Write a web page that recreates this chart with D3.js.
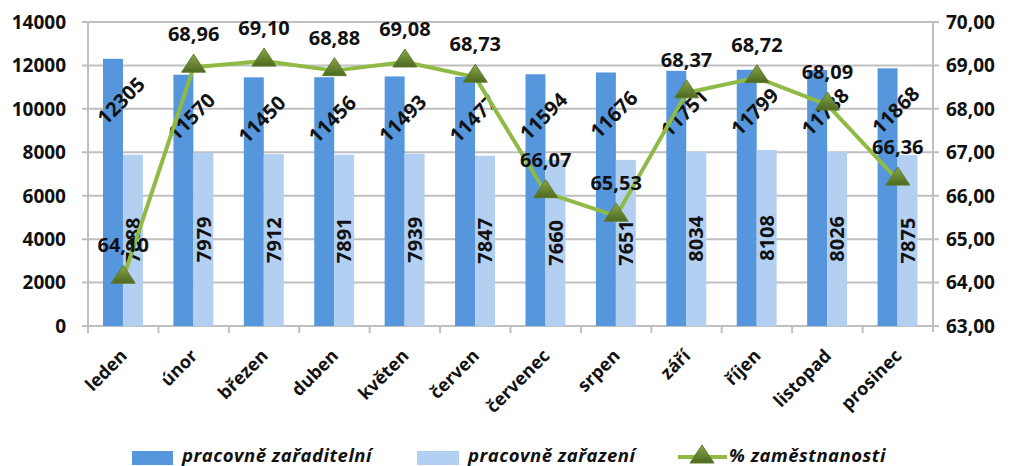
<!DOCTYPE html>
<html>
<head>
<meta charset="utf-8">
<script src="https://cdn.jsdelivr.net/npm/d3@7"></script>
<style>
  body { margin: 0; background: #fff; }
  text { font-family: "Open Sans", sans-serif; font-weight: bold; fill: #111; }
</style>
</head>
<body>
<div id="chart"></div>
<script>
const months = ["leden", "únor", "březen", "duben", "květen", "červen", "červenec", "srpen", "září", "říjen", "listopad", "prosinec"];
const zaraditelni = [12305, 11570, 11450, 11456, 11493, 11477, 11594, 11676, 11751, 11799, 11788, 11868];
const zarazeni = [7888, 7979, 7912, 7891, 7939, 7847, 7660, 7651, 8034, 8108, 8026, 7875];
const zamestnanost = [64.10, 68.96, 69.10, 68.88, 69.08, 68.73, 66.07, 65.53, 68.37, 68.72, 68.09, 66.36];
const leftTicks = [0, 2000, 4000, 6000, 8000, 10000, 12000, 14000];
const rightTicks = [63, 64, 65, 66, 67, 68, 69, 70];
const seriesNames = ["pracovně zařaditelní", "pracovně zařazení", "% zaměstnanosti"];

const W = 1009, H = 466;
const pLeft = 88, pRight = 933, pTop = 22, pBottom = 326;
const darkBlue = "#5596dd", lightBlue = "#b3d0f3", green = "#8fba45", grid = "#bfbfbf";

const svg = d3.select("#chart").append("svg")
    .attr("width", W)
    .attr("height", H)

const defs = svg.append("defs")
const grad = defs.append("linearGradient").attr("id", "tri").attr("x1", 0).attr("y1", 0).attr("x2", 0).attr("y2", 1)
grad.append("stop").attr("offset", "0%").attr("stop-color", "#8aa84a")
grad.append("stop").attr("offset", "100%").attr("stop-color", "#4d6820")

const x = d3.scaleBand().domain(months).range([pLeft, pRight]).padding(0)
const xSub = d3.scaleBand().domain([0, 1]).range([x.bandwidth() * 0.213, x.bandwidth() * 0.78]).padding(0)
const y = d3.scaleLinear().domain([0, 14000]).range([pBottom, pTop])
const y2 = d3.scaleLinear().domain([63, 70]).range([pBottom, pTop])
const comma = v => d3.format(".2f")(v).replace(".", ",")

// gridlines
svg.append("g").selectAll("line")
    .data(leftTicks.filter(d => d > 0))
    .enter().append("line")
    .attr("x1", pLeft - 6).attr("x2", pRight + 6)
    .attr("y1", d => y(d)).attr("y2", d => y(d))
    .attr("stroke", grid).attr("stroke-width", 2)

// axes lines
svg.append("line").attr("x1", pLeft - 6).attr("x2", pRight + 6).attr("y1", pBottom).attr("y2", pBottom)
    .attr("stroke", grid).attr("stroke-width", 2)
svg.append("line").attr("x1", pLeft).attr("x2", pLeft).attr("y1", pTop).attr("y2", pBottom + 6)
    .attr("stroke", grid).attr("stroke-width", 2)
svg.append("line").attr("x1", pRight).attr("x2", pRight).attr("y1", pTop).attr("y2", pBottom + 6)
    .attr("stroke", grid).attr("stroke-width", 2)

// category ticks
svg.append("g").selectAll("line")
    .data(months)
    .enter().append("line")
    .attr("x1", d => x(d)).attr("x2", d => x(d))
    .attr("y1", pBottom).attr("y2", pBottom + 7)
    .attr("stroke", grid).attr("stroke-width", 2)

// left labels
svg.append("g").selectAll("text")
    .data(leftTicks)
    .enter().append("text")
    .attr("x", 66).attr("y", d => y(d))
    .attr("dy", "0.36em")
    .attr("text-anchor", "end")
    .style("font-size", "19px")
    .text(d => d)

// right labels
svg.append("g").selectAll("text")
    .data(rightTicks)
    .enter().append("text")
    .attr("x", 946).attr("y", d => y2(d))
    .attr("dy", "0.36em")
    .style("font-size", "19px")
    .text(d => comma(d))

// bars
const groups = svg.append("g").selectAll("g")
    .data(months)
    .enter().append("g")
    .attr("transform", d => "translate(" + x(d) + ",0)")

groups.append("rect")
    .attr("x", xSub(0)).attr("width", xSub.bandwidth())
    .attr("y", (d, i) => y(zaraditelni[i]))
    .attr("height", (d, i) => pBottom - y(zaraditelni[i]))
    .attr("fill", darkBlue)

groups.append("rect")
    .attr("x", xSub(1)).attr("width", xSub.bandwidth())
    .attr("y", (d, i) => y(zarazeni[i]))
    .attr("height", (d, i) => pBottom - y(zarazeni[i]))
    .attr("fill", lightBlue)

// light bar labels (centered, vertical)
groups.append("text")
    .attr("transform", (d, i) => "translate(" + (xSub(1) + xSub.bandwidth() / 2) + "," + ((y(zarazeni[i]) + pBottom) / 2) + ") rotate(-90)")
    .attr("text-anchor", "middle")
    .attr("dy", "0.36em")
    .style("font-size", "20px")
    .text((d, i) => zarazeni[i])

// line
const cx = d => x(d) + x.bandwidth() / 2
const line = d3.line()
    .x((d, i) => cx(months[i]))
    .y(d => y2(d))

svg.append("path")
    .datum(zamestnanost)
    .attr("d", line)
    .attr("fill", "none")
    .attr("stroke", green)
    .attr("stroke-width", 4)
    .attr("stroke-linejoin", "round")

// dark bar labels (rotated)
groups.append("text")
    .attr("transform", (d, i) => "translate(" + (xSub(0) + xSub.bandwidth() / 2 + 8) + "," + (y(zaraditelni[i]) + 42) + ") rotate(-45)")
    .attr("text-anchor", "middle")
    .attr("dy", "0.36em")
    .style("font-size", "20px")
    .text((d, i) => zaraditelni[i])

const triPath = "M0,-11L12,7L-12,7Z"
svg.append("g").selectAll("path")
    .data(zamestnanost)
    .enter().append("path")
    .attr("d", triPath)
    .attr("transform", (d, i) => "translate(" + cx(months[i]) + "," + (y2(d) - 2) + ")")
    .attr("fill", "url(#tri)")
    .attr("stroke", "#5e7c2a")
    .attr("stroke-width", 1)

svg.append("g").selectAll("text")
    .data(zamestnanost)
    .enter().append("text")
    .attr("x", (d, i) => cx(months[i]))
    .attr("y", d => y2(d) - 33)
    .attr("dy", "0.36em")
    .attr("text-anchor", "middle")
    .style("font-size", "20px")
    .text(d => comma(d))

// category labels
svg.append("g").selectAll("text")
    .data(months)
    .enter().append("text")
    .attr("transform", d => "translate(" + (cx(d) + 5) + ",357) rotate(-45)")
    .attr("text-anchor", "end")
    .style("font-size", "18px")
    .text(d => d)

// legend
const legend = svg.append("g")
const legendText = (xx, s) => legend.append("text").attr("x", xx).attr("y", 462)
    .style("font-size", "18.5px").style("font-style", "italic").style("letter-spacing", "0.5px").text(s)
legend.append("rect").attr("x", 132).attr("y", 451).attr("width", 41).attr("height", 14).attr("fill", darkBlue)
legendText(182, seriesNames[0])
legend.append("rect").attr("x", 417).attr("y", 451).attr("width", 42).attr("height", 14).attr("fill", lightBlue)
legendText(468, seriesNames[1])
legend.append("line").attr("x1", 678).attr("x2", 727).attr("y1", 457).attr("y2", 457).attr("stroke", green).attr("stroke-width", 4)
legend.append("path").attr("d", triPath).attr("transform", "translate(702,456)").attr("fill", "url(#tri)").attr("stroke", "#5e7c2a")
legendText(729, seriesNames[2])
</script>
</body>
</html>
